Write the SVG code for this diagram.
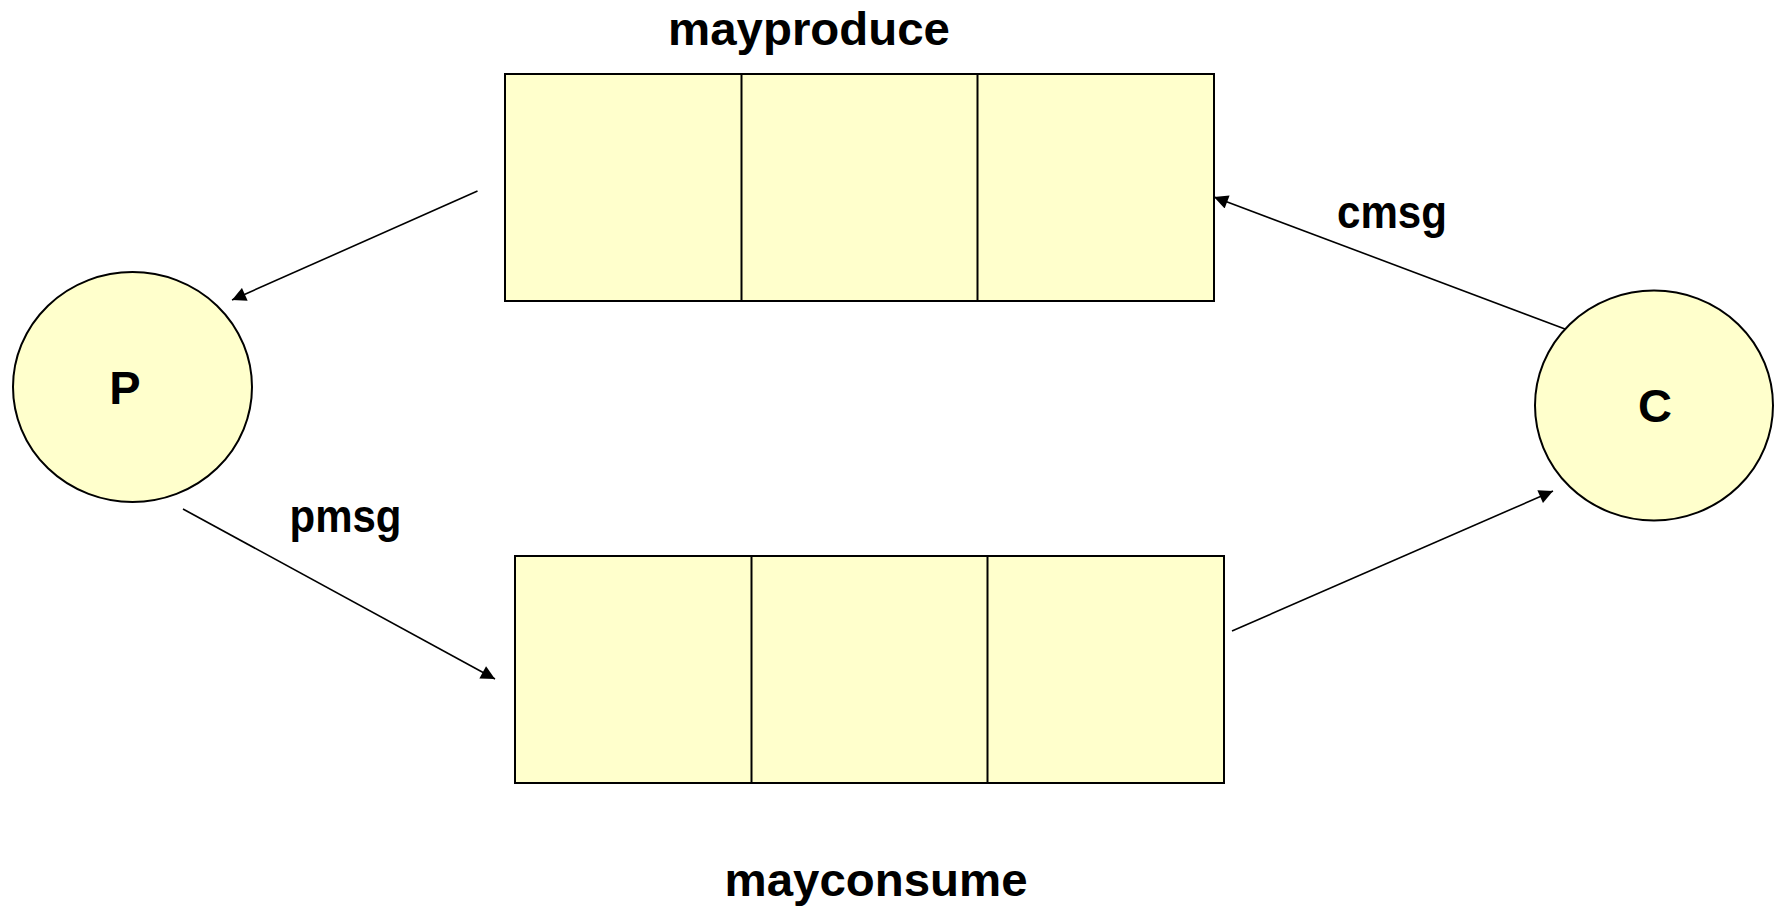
<svg xmlns="http://www.w3.org/2000/svg" width="1774" height="908" viewBox="0 0 1774 908">
<style>
.shape{fill:#FFFFCC;stroke:#000;stroke-width:2}
.div{stroke:#000;stroke-width:2}
.conn{stroke:#000;stroke-width:1.6;fill:none;marker-end:url(#ah)}
text{font-family:"Liberation Sans",Arial,sans-serif;font-weight:bold;font-size:47px;fill:#000;text-anchor:middle}
</style>
<defs>
<marker id="ah" viewBox="0 0 10 10" refX="10" refY="5" markerWidth="16" markerHeight="14" markerUnits="userSpaceOnUse" orient="auto"><path d="M0,0 L10,5 L0,10 Z" fill="#000"/></marker>
</defs>
<rect width="1774" height="908" fill="#fff"/>
<g id="mayproduce">
<rect class="shape" x="505" y="74" width="709" height="227"/>
<line class="div" x1="741.5" y1="74" x2="741.5" y2="301"/>
<line class="div" x1="977.5" y1="74" x2="977.5" y2="301"/>
<text x="809" y="45" textLength="282" lengthAdjust="spacingAndGlyphs">mayproduce</text>
</g>
<g id="mayconsume">
<rect class="shape" x="515" y="556" width="709" height="227"/>
<line class="div" x1="751.5" y1="556" x2="751.5" y2="783"/>
<line class="div" x1="987.5" y1="556" x2="987.5" y2="783"/>
<text x="876" y="896" textLength="303" lengthAdjust="spacingAndGlyphs">mayconsume</text>
</g>
<g id="P">
<ellipse class="shape" cx="132.5" cy="387" rx="119.5" ry="115"/>
<text x="125" y="404">P</text>
</g>
<g id="C">
<ellipse class="shape" cx="1654" cy="405.5" rx="119" ry="115"/>
<text x="1655" y="422">C</text>
</g>
<g id="connectors">
<line class="conn" x1="477.5" y1="191" x2="232" y2="300"/>
<line class="conn" x1="1565" y1="329" x2="1214" y2="197"/>
<line class="conn" x1="183" y1="509" x2="495" y2="679"/>
<line class="conn" x1="1232" y1="631" x2="1553" y2="491"/>
<text x="345.5" y="532" textLength="112" lengthAdjust="spacingAndGlyphs">pmsg</text>
<text x="1392" y="228" textLength="110" lengthAdjust="spacingAndGlyphs">cmsg</text>
</g>
</svg>
